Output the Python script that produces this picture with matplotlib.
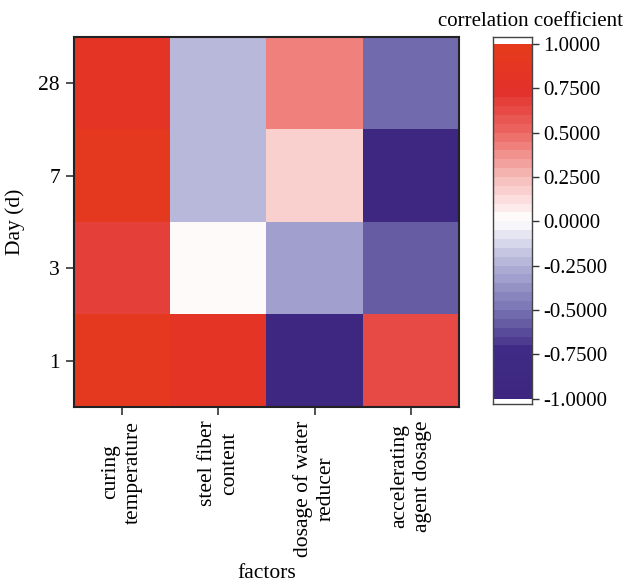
import numpy as np
import matplotlib.pyplot as plt
import matplotlib.colors as mcolors

plt.rcParams['font.family'] = ['Liberation Serif', 'DejaVu Serif']

days = ['1', '3', '7', '28']
factors = ['curing\ntemperature', 'steel fiber\ncontent',
           'dosage of water\nreducer', 'accelerating\nagent dosage']

# correlation coefficient per day (rows, bottom to top) and factor (columns)
corr_day1 = [0.95, 0.85, -0.95, 0.65]
corr_day3 = [0.70, 0.00, -0.35, -0.60]
corr_day7 = [0.95, -0.25, 0.20, -0.95]
corr_day28 = [0.85, -0.25, 0.45, -0.55]

cbar_ticks = [-1.0, -0.75, -0.5, -0.25, 0.0, 0.25, 0.5, 0.75, 1.0]

values = np.array([corr_day1, corr_day3, corr_day7, corr_day28])

# blue - white - red scale, stepped into 40 bands
cmap = mcolors.LinearSegmentedColormap.from_list('bwr_steps', [
    (0.0, '#3c2680'), (0.125, '#3f2b85'), (0.25, '#7c78b6'),
    (0.375, '#b2b2d8'), (0.5, '#ffffff'), (0.625, '#f6bcba'),
    (0.75, '#ec6b66'), (0.875, '#e3302a'), (1.0, '#e53b1c')])
bounds = np.linspace(-1, 1, 41)
norm = mcolors.BoundaryNorm(bounds, cmap.N)

fig = plt.figure(figsize=(6.27, 5.87), dpi=100)
ax = fig.add_axes([0.118, 0.307, 0.614, 0.630])
cax = fig.add_axes([0.786, 0.312, 0.062, 0.625])

ax.pcolormesh(np.arange(5), np.arange(5), values, cmap=cmap, norm=norm)
ax.set_xlim(0, 4)
ax.set_ylim(0, 4)
ax.set_xticks(np.arange(4) + 0.5)
ax.set_xticklabels(factors, rotation=90, ha='center', va='top',
                   multialignment='center', fontsize=15.5, linespacing=1.25)
ax.set_yticks(np.arange(4) + 0.5)
ax.set_yticklabels(days, fontsize=15.5)
ax.tick_params(length=6, width=1.2, color='#333333', pad=4)
for s in ax.spines.values():
    s.set_linewidth(1.5)
    s.set_color('#222222')
ax.set_xlabel('factors', fontsize=15.5, labelpad=5)
ax.set_ylabel('Day (d)', fontsize=15.5, labelpad=10)

# colorbar drawn as stacked bands with a little white room at both ends
centers = (bounds[:-1] + bounds[1:]) / 2
cax.pcolormesh([0, 1], bounds, centers.reshape(-1, 1), cmap=cmap, norm=norm)
cax.set_xlim(0, 1)
cax.set_ylim(-1.03, 1.04)
cax.set_xticks([])
cax.yaxis.tick_right()
cax.set_yticks(cbar_ticks)
cax.set_yticklabels([f'{t:.4f}' for t in cbar_ticks], fontsize=15)
cax.tick_params(axis='y', length=5, width=1.0, color='#333333', pad=3)
for s in cax.spines.values():
    s.set_linewidth(1.0)
    s.set_color('#444444')
cax.set_title('correlation coefficient', fontsize=15, pad=8, x=0.97)

fig.savefig('out.png', dpi=100)
